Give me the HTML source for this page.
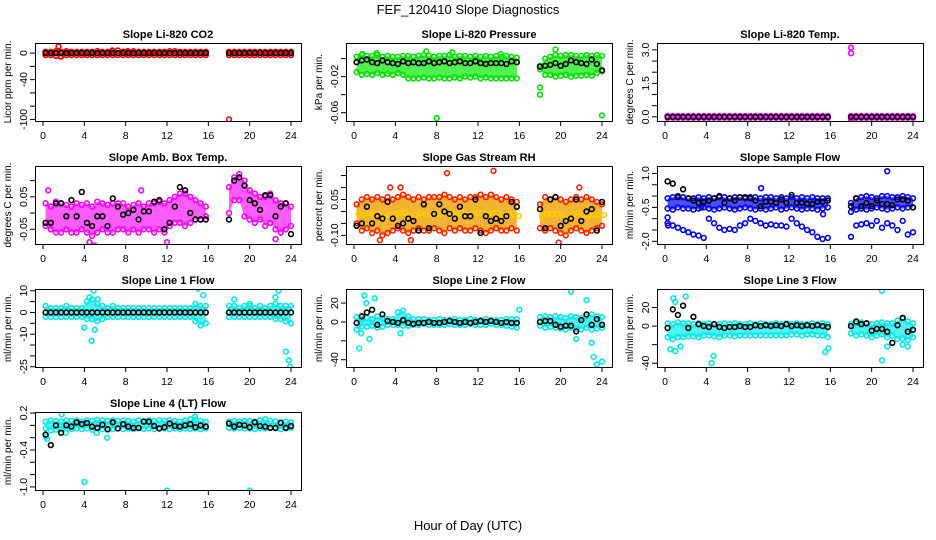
<!DOCTYPE html>
<html><head><meta charset="utf-8"><title>FEF_120410 Slope Diagnostics</title>
<style>
html,body{margin:0;padding:0;background:#fff;}
svg{display:block;font-family:"Liberation Sans",sans-serif;}
</style></head>
<body>
<svg id="chart" width="936" height="540" viewBox="0 0 936 540" xmlns="http://www.w3.org/2000/svg">
<rect x="0" y="0" width="936" height="540" fill="#fff"/>
<text x="468" y="14" font-size="13" text-anchor="middle">FEF_120410  Slope Diagnostics</text>
<text x="468" y="530" font-size="13" text-anchor="middle">Hour of Day (UTC)</text>
</svg>
<script>
// shared sample hours
const hours = [0.25,0.75,1.25,1.75,2.25,2.75,3.25,3.75,4.25,4.75,5.25,5.75,6.25,6.75,7.25,7.75,8.25,8.75,9.25,9.75,10.25,10.75,11.25,11.75,12.25,12.75,13.25,13.75,14.25,14.75,15.25,15.75,
 18,18.5,19,19.5,20,20.5,21,21.5,22,22.5,23,23.5,24];
const xTicks = [0,4,8,12,16,20,24];

// Panel 1: CO2
const co2Hi = [2,2,3,2,3,2,2,2,2,2,3,2,2,3,4,2,2,3,2,2,2,2,2,2,3,3,2,2,2,2,2,2, 2,2,2,2,2,2,2,2,2,2,2,2,2];
const co2Lo = [-3,-3,-4,-5,-3,-3,-3,-3,-3,-3,-3,-3,-3,-3,-3,-3,-3,-3,-3,-3,-3,-3,-3,-3,-3,-3,-3,-3,-3,-3,-3,-3, -3,-3,-3,-3,-3,-3,-3,-3,-3,-3,-3,-3,-3];
const co2Mean = [0,0,0,0,0,0,0,0,0,0,0,0,0,0,0,0,0,0,0,0,0,0,0,0,0,0,0,0,0,0,0,0, 0,0,0,0,0,0,0,0,0,0,0,0,0];
const co2Out = [[1.5,10],[1.7,-5],[8.2,3],[6.7,4],[18,-100]];
// Panel 2: Pressure
const presHi = [0.002,0.004,0.003,0.003,0.004,0.002,0.003,0.002,0.002,0.003,0.003,0.002,0.003,0.004,0.003,0.002,0.003,0.003,0.004,0.002,0.003,0.003,0.002,0.003,0.002,0.003,0.002,0.003,0.002,0.003,0.002,0.001, -0.008,0.0,0.002,0.004,0.003,0.004,0.004,0.003,0.003,0.004,0.003,0.004,0.003];
const presLo = [-0.015,-0.018,-0.017,-0.018,-0.016,-0.018,-0.017,-0.018,-0.016,-0.018,-0.022,-0.022,-0.022,-0.021,-0.022,-0.022,-0.021,-0.022,-0.022,-0.021,-0.022,-0.020,-0.021,-0.020,-0.022,-0.021,-0.022,-0.022,-0.022,-0.022,-0.022,-0.022, -0.012,-0.018,-0.018,-0.020,-0.019,-0.018,-0.020,-0.019,-0.019,-0.018,-0.019,-0.016,-0.014];
const presMean = [-0.004,-0.002,-0.001,-0.004,-0.005,-0.002,-0.004,-0.005,-0.006,-0.003,-0.005,-0.004,-0.005,-0.005,-0.003,-0.005,-0.004,-0.003,-0.005,-0.004,-0.003,-0.005,-0.005,-0.003,-0.005,-0.006,-0.005,-0.005,-0.005,-0.006,-0.003,-0.004, -0.009,-0.008,-0.007,-0.005,-0.008,-0.006,-0.002,-0.004,-0.005,-0.006,-0.001,-0.006,-0.013];
const presOut = [[0.8,0.005],[2.2,0.006],[7,0.008],[8,-0.066],[18,-0.032],[18,-0.04],[19.5,0.01],[24,-0.063],[9.5,0.007],[14.2,0.005]];
// Panel 3: Temp
const tempHi = [0.04,0.04,0.04,0.04,0.04,0.04,0.04,0.04,0.04,0.04,0.04,0.04,0.04,0.04,0.04,0.04,0.04,0.04,0.04,0.04,0.04,0.04,0.04,0.04,0.04,0.04,0.04,0.04,0.04,0.04,0.04,0.04, 0.04,0.04,0.04,0.04,0.04,0.04,0.04,0.04,0.04,0.04,0.04,0.04,0.04];
const tempLo = [-0.04,-0.04,-0.04,-0.04,-0.04,-0.04,-0.04,-0.04,-0.04,-0.04,-0.04,-0.04,-0.04,-0.04,-0.04,-0.04,-0.04,-0.04,-0.04,-0.04,-0.04,-0.04,-0.04,-0.04,-0.04,-0.04,-0.04,-0.04,-0.04,-0.04,-0.04,-0.04, -0.04,-0.04,-0.04,-0.04,-0.04,-0.04,-0.04,-0.04,-0.04,-0.04,-0.04,-0.04,-0.04];
const tempMean = [0,0,0,0,0,0,0,0,0,0,0,0,0,0,0,0,0,0,0,0,0,0,0,0,0,0,0,0,0,0,0,0, 0,0,0,0,0,0,0,0,0,0,0,0,0];
const tempOut = [[18,3.1],[18,2.85],[18,-0.1]];
// Panel 4: Amb box temp
const boxHi = [0.03,0.02,0.035,0.03,0.025,0.02,0.03,0.025,0.03,0.02,0.035,0.03,0.025,0.03,0.03,0.03,0.02,0.025,0.03,0.02,0.03,0.03,0.035,0.03,0.04,0.05,0.06,0.06,0.05,0.04,0.03,0.02, 0.08,0.11,0.12,0.10,0.07,0.06,0.05,0.05,0.06,0.04,0.03,0.03,0.02];
const boxLo = [-0.04,-0.05,-0.06,-0.06,-0.05,-0.06,-0.06,-0.05,-0.06,-0.07,-0.06,-0.05,-0.06,-0.06,-0.05,-0.05,-0.06,-0.05,-0.06,-0.05,-0.05,-0.06,-0.05,-0.06,-0.04,-0.03,-0.03,-0.04,-0.03,-0.02,-0.02,-0.01, 0.0,0.04,0.04,-0.01,-0.02,-0.03,-0.02,-0.04,-0.03,-0.05,-0.06,-0.05,-0.04];
const boxMean = [-0.03,-0.03,0.03,0.03,-0.01,0.04,-0.01,0.065,-0.03,-0.04,-0.01,-0.01,-0.04,0.045,0.02,-0.005,0.0,0.01,-0.02,0.005,0.005,0.035,0.04,-0.05,-0.03,0.02,0.08,0.07,0.0,-0.02,-0.02,-0.02, -0.02,0.1,0.11,0.085,0.04,0.03,0.01,0.055,0.055,-0.01,0.02,0.03,-0.065];
const boxOut = [[0.5,0.07],[4.5,-0.09],[5,-0.1],[9.5,0.07],[12,-0.09],[22.5,-0.08]];
// Panel 5: Gas stream RH
const rhHi = [0.03,0.05,0.06,0.05,0.06,0.05,0.06,0.05,0.06,0.07,0.06,0.05,0.06,0.05,0.06,0.06,0.06,0.07,0.06,0.05,0.06,0.05,0.06,0.06,0.07,0.06,0.07,0.06,0.05,0.06,0.05,0.04, 0.03,0.06,0.05,0.06,0.05,0.04,0.05,0.06,0.05,0.06,0.05,0.04,0.03];
const rhLo = [-0.05,-0.08,-0.07,-0.09,-0.08,-0.1,-0.09,-0.08,-0.07,-0.08,-0.09,-0.08,-0.07,-0.08,-0.08,-0.07,-0.08,-0.09,-0.07,-0.08,-0.07,-0.08,-0.08,-0.07,-0.08,-0.09,-0.08,-0.07,-0.08,-0.08,-0.07,-0.08, -0.07,-0.08,-0.07,-0.08,-0.09,-0.1,-0.08,-0.07,-0.08,-0.09,-0.08,-0.07,-0.06];
const rhMean = [-0.06,-0.05,0.02,-0.05,-0.02,-0.03,0.04,-0.03,-0.06,-0.05,-0.03,-0.04,-0.08,0.03,-0.07,-0.01,0.03,0.0,-0.01,-0.03,0.02,-0.02,-0.02,0.05,-0.09,-0.02,-0.04,-0.03,-0.04,-0.02,0.04,0.02, 0.01,-0.07,0.05,0.06,-0.06,-0.04,-0.03,0.05,-0.04,0.0,0.01,-0.08,0.04];
const rhOut = [[9,0.16],[13.5,0.17],[4.5,0.1],[3.5,0.1],[21.8,0.1],[19.8,-0.13],[2.5,-0.12],[5.5,-0.12]];
// Panel 6: Sample flow
const sfHi = [-0.1,-0.05,0.0,-0.05,-0.1,-0.1,-0.05,-0.1,-0.05,-0.1,-0.05,-0.05,-0.1,-0.05,-0.05,-0.1,-0.05,-0.05,-0.1,-0.05,-0.05,-0.1,-0.05,-0.1,-0.05,-0.1,-0.05,-0.1,-0.05,-0.1,-0.1,-0.1, -0.3,-0.1,-0.05,0.0,-0.05,-0.1,0.0,0.0,-0.05,-0.05,0.0,-0.05,-0.1];
const sfLo = [-0.55,-0.6,-0.5,-0.55,-0.55,-0.6,-0.55,-0.5,-0.55,-0.6,-0.55,-0.5,-0.55,-0.6,-0.55,-0.5,-0.55,-0.6,-0.55,-0.6,-0.55,-0.5,-0.6,-0.55,-0.5,-0.55,-0.6,-0.55,-0.55,-0.6,-0.55,-0.5, -0.7,-0.6,-0.55,-0.6,-0.55,-0.5,-0.55,-0.6,-0.55,-0.5,-0.55,-0.5,-0.5];
const sfLowBand = [-1.2,-1.3,-1.4,-1.5,-1.6,-1.7,-1.75,-1.85,-1.0,-1.2,-1.4,-1.5,-1.45,-1.5,-1.3,-1.2,-1.0,-1.1,-1.2,-1.3,-1.25,-1.3,-1.3,-1.35,-1.0,-1.2,-1.35,-1.5,-1.6,-1.8,-1.9,-1.85, -1.8,-1.3,-1.25,-1.2,-1.3,-1.1,-1.4,-1.2,-1.3,-1.5,-1.1,-1.7,-1.6];
const sfMean = [0.65,0.55,-0.05,0.3,-0.1,-0.2,-0.3,-0.25,-0.2,-0.1,0.0,-0.3,-0.1,-0.2,-0.05,-0.05,-0.1,-0.2,-0.45,-0.25,-0.25,-0.3,-0.15,-0.3,0.05,-0.3,-0.3,-0.35,-0.35,-0.25,-0.25,-0.2, -0.45,-0.1,-0.45,-0.3,-0.45,-0.2,-0.35,-0.35,-0.4,-0.15,-0.15,-0.2,-0.5];
const sfOut = [[0.25,-0.95],[3.5,-0.5],[21.5,1.1],[15.3,-0.8],[9.3,0.35],[0.3,-1.3]];
// Panel 7: Line 1
const l1Hi = [3,2,2,2,3,2,2,2,5,6,4,3,2,3,2,2,2,2,2,2,2,2,2,2,2,2,2,2,2,4,3,3, 3,3,2,3,3,2,3,2,3,4,3,3,3];
const l1Lo = [-2,-2,-2,-2,-2,-2,-2,-2,-3,-3,-4,-3,-2,-2,-2,-2,-2,-2,-2,-2,-2,-2,-2,-2,-2,-2,-2,-2,-2,-4,-6,-5, -2,-2,-2,-2,-2,-2,-2,-2,-2,-3,-3,-4,-5];
const l1Mean = [0,0,0,0,0,0,0,0,0,0,0,0,0,0,0,0,0,0,0,0,0,0,0,0,0,0,0,0,0,0,0,0, 0,0,0,0,0,0,0,0,0,0,0,0,0];
const l1Out = [[4,-7],[4.5,7],[4.9,10],[5,-8],[4.7,-13],[5.3,6],[15,11],[15.5,8],[18.5,6],[20,4],[22.8,10],[23.5,-18],[23.8,-22],[23.9,-25],[22.5,7]];
// Panel 8: Line 2
const l2Hi = [5,3,4,3,6,4,3,3,10,12,6,3,3,3,2,2,3,2,2,3,2,2,3,2,2,3,2,2,2,3,3,3, 5,6,5,6,5,4,6,5,4,6,8,6,5];
const l2Lo = [-8,-5,-5,-4,-6,-5,-3,-3,-3,-4,-4,-3,-3,-2,-3,-3,-3,-3,-2,-3,-3,-3,-2,-3,-3,-3,-2,-3,-3,-4,-5,-6, -4,-6,-5,-6,-7,-8,-6,-7,-8,-6,-8,-7,-6];
const l2Mean = [-1,6,10,13,-3,8,1,0,-1,2,-1,-2,-1,-1,0,-1,-1,0,1,0,-1,0,-1,0,1,0,1,0,-1,0,-1,-1, 0,1,1,-3,-5,-4,-4,-10,2,8,-3,3,-3];
const l2Out = [[0.5,-28],[1,28],[1.2,20],[2,25],[1.5,-18],[0.7,-12],[22.5,23],[21,32],[23.2,-37],[23.5,-45],[24,-42],[21.5,-18],[23,-22],[16,13],[4.5,-12]];
// Panel 9: Line 3
const l3Hi = [3,2,4,3,3,2,3,2,3,2,2,3,2,3,2,2,3,2,3,2,2,3,2,3,2,3,2,2,3,2,3,2, 2,3,4,3,2,3,4,3,3,6,8,5,3];
const l3Lo = [-12,-14,-12,-12,-11,-11,-12,-10,-10,-11,-12,-10,-10,-11,-10,-10,-10,-10,-10,-10,-10,-10,-10,-10,-9,-9,-10,-9,-9,-10,-10,-12, -8,-10,-9,-10,-12,-10,-9,-12,-10,-14,-13,-15,-12];
const l3Mean = [-2,18,12,22,-2,10,2,0,-1,2,-1,-2,-1,-1,0,-1,-1,1,0,1,0,1,0,2,0,1,0,1,0,1,0,-1, 0,5,2,3,-5,-3,-3,-6,-18,1,9,-6,-4];
const l3Out = [[0.8,30],[1,26],[2,32],[0.5,-25],[1,-27],[1.5,-22],[4.5,-40],[4.7,-32],[21,38],[21,-37],[21.5,-22],[23,-20],[23.5,-22],[15.5,-28],[15.8,-24]];
// Panel 10: Line 4 (LT)
const l4Hi = [0.06,0.08,0.07,0.06,0.08,0.07,0.08,0.06,0.08,0.07,0.09,0.08,0.07,0.08,0.07,0.08,0.07,0.06,0.08,0.07,0.08,0.07,0.08,0.07,0.08,0.07,0.06,0.08,0.1,0.09,0.07,0.06, 0.06,0.07,0.06,0.07,0.07,0.06,0.08,0.1,0.07,0.06,0.05,0.06,0.05];
const l4Lo = [-0.05,-0.08,-0.07,-0.06,-0.05,-0.06,-0.05,-0.06,-0.05,-0.07,-0.05,-0.06,-0.07,-0.06,-0.05,-0.06,-0.05,-0.06,-0.05,-0.06,-0.05,-0.06,-0.05,-0.05,-0.06,-0.05,-0.06,-0.05,-0.06,-0.05,-0.06,-0.05, -0.04,-0.05,-0.04,-0.05,-0.05,-0.06,-0.05,-0.05,-0.04,-0.05,-0.06,-0.05,-0.04];
const l4Mean = [-0.15,-0.32,0.0,-0.12,0.0,-0.02,0.05,0.02,0.04,-0.02,-0.04,0.01,-0.06,0.05,-0.05,0.02,-0.02,-0.04,-0.04,0.06,0.06,-0.01,-0.05,-0.03,0.03,-0.01,-0.02,0.0,0.02,-0.03,0.0,-0.02, 0.03,-0.02,0.01,0.0,-0.03,0.05,-0.01,-0.02,-0.04,-0.04,0.04,-0.04,-0.01];
const l4Out = [[0.3,-0.18],[0.4,-0.22],[1.8,0.18],[4,-0.92],[12,-1.06],[20,-1.06],[6.2,-0.2],[5.2,-0.12],[14.7,0.14],[2.2,-0.12]];

const SVGNS = "http://www.w3.org/2000/svg";
const svg = document.getElementById('chart');
const colLeft = [35,346,657];
const rowTop = [43,166,289,412];
const BW = 266, BH = 78;

function mk(tag, attrs, parent){
  const e = document.createElementNS(SVGNS, tag);
  for (const k in attrs) e.setAttribute(k, attrs[k]);
  (parent||svg).appendChild(e);
  return e;
}

const panels = [
 {key:'co2',title:'Slope Li-820 CO2',ylab:'Licor ppm per min.',r:0,c:0,dom:[-102.4,15.3],ticks:[0,-20,-40,-60,-80,-100],labs:[0,-40,-100],fmt:v=>String(v),col:'#ff0000',band:'#ff3030',hi:co2Hi,lo:co2Lo,mean:co2Mean,out:co2Out},
 {key:'pressure',title:'Slope Li-820 Pressure',ylab:'kPa per min.',r:0,c:1,dom:[-0.0692,0.0173],ticks:[0,-0.02,-0.04,-0.06],labs:[-0.02,-0.06],fmt:v=>v.toFixed(2),col:'#00e000',band:'#22ee22',hi:presHi,lo:presLo,mean:presMean,out:presOut},
 {key:'temp',title:'Slope Li-820 Temp.',ylab:'degrees C per min.',r:0,c:2,dom:[-0.185,3.307],ticks:[0,0.5,1,1.5,2,2.5,3],labs:[0,1.5,3],fmt:v=>v.toFixed(1),col:'#ff00ff',band:'#ff22ff',hi:tempHi,lo:tempLo,mean:tempMean,out:tempOut},
 {key:'box-temp',title:'Slope Amb. Box Temp.',ylab:'degrees C per min.',r:1,c:0,dom:[-0.0954,0.145],ticks:[-0.05,0,0.05,0.1],labs:[-0.05,0.05],fmt:v=>v.toFixed(2),col:'#ff00ff',band:'#ff33ff',hi:boxHi,lo:boxLo,mean:boxMean,out:boxOut},
 {key:'gas-rh',title:'Slope Gas Stream RH',ylab:'percent per min.',r:1,c:1,dom:[-0.136,0.19],ticks:[-0.1,-0.05,0,0.05,0.1,0.15],labs:[-0.1,0.05],fmt:v=>v.toFixed(2),col:'#ff2000',band:'#f0a000',hi:rhHi,lo:rhLo,mean:rhMean,out:rhOut},
 {key:'sample-flow',title:'Slope Sample Flow',ylab:'ml/min per min.',r:1,c:2,dom:[-2.12,1.33],ticks:[-2,-1.5,-1,-0.5,0,0.5,1],labs:[-2,-0.5,1],fmt:v=>v.toFixed(1),col:'#0000ff',band:'#2020ff',hi:sfHi,lo:sfLo,mean:sfMean,out:sfOut,extra:sfLowBand},
 {key:'line1',title:'Slope Line 1 Flow',ylab:'ml/min per min.',r:2,c:0,dom:[-25.1,10.8],ticks:[10,5,0,-5,-10,-15,-20,-25],labs:[10,0,-10,-25],fmt:v=>String(v),col:'#00e8e8',band:'#22f0f0',hi:l1Hi,lo:l1Lo,mean:l1Mean,out:l1Out},
 {key:'line2',title:'Slope Line 2 Flow',ylab:'ml/min per min.',r:2,c:1,dom:[-47.7,34.9],ticks:[20,0,-20,-40],labs:[20,0,-40],fmt:v=>String(v),col:'#00e8e8',band:'#22f0f0',hi:l2Hi,lo:l2Lo,mean:l2Mean,out:l2Out},
 {key:'line3',title:'Slope Line 3 Flow',ylab:'ml/min per min.',r:2,c:2,dom:[-44.1,40],ticks:[20,0,-20,-40],labs:[20,0,-40],fmt:v=>String(v),col:'#00e8e8',band:'#22f0f0',hi:l3Hi,lo:l3Lo,mean:l3Mean,out:l3Out},
 {key:'line4',title:'Slope Line 4 (LT) Flow',ylab:'ml/min per min.',r:3,c:0,dom:[-1.05,0.217],ticks:[0.2,0,-0.2,-0.4,-0.6,-0.8,-1],labs:[0.2,-0.4,-1],fmt:v=>v.toFixed(1),col:'#00e8e8',band:'#22f0f0',hi:l4Hi,lo:l4Lo,mean:l4Mean,out:l4Out}
];

function circle(g, x, y, color, name){
  const c = mk('circle',{cx:x.toFixed(1),cy:y.toFixed(1),r:2.4,fill:'none',stroke:color,'stroke-width':1.6},g);
  
  
  return c;
}

panels.forEach(p=>{
  const L = colLeft[p.c], T = rowTop[p.r];
  const g = mk('g',{});
  
  
  const xs = t => L + 8 + t*(248/24);
  const ys = v => T + (p.dom[1]-v)/(p.dom[1]-p.dom[0])*BH;
  const clip = mk('clipPath',{id:'clip-'+p.key},g);
  mk('rect',{x:L,y:T,width:BW,height:BH},clip);
  const plot = mk('g',{'clip-path':'url(#clip-'+p.key+')'},g);
  
  
  const segs = [[0,31],[32,hours.length-1]];
  segs.forEach((s,si)=>{
    let pts = [];
    for (let i=s[0];i<=s[1];i++) pts.push(xs(hours[i]).toFixed(1)+','+ys(p.hi[i]).toFixed(1));
    for (let i=s[1];i>=s[0];i--) pts.push(xs(hours[i]).toFixed(1)+','+ys(p.lo[i]).toFixed(1));
    const poly = mk('polygon',{points:pts.join(' '),fill:p.band,'fill-opacity':0.8,stroke:'none'},plot);
    
    
  });
  for (let i=0;i<hours.length;i++){
    circle(plot, xs(hours[i]), ys(p.hi[i]), p.col, 'point-high');
    circle(plot, xs(hours[i]), ys(p.lo[i]), p.col, 'point-low');
    if (p.key==='gas-rh'){ circle(plot, xs(hours[i])+2, ys((p.hi[i]+p.lo[i])/2), '#ffcc00', 'point-mid'); }
    if (p.extra){ circle(plot, xs(hours[i]), ys(p.extra[i]), p.col, 'point-low-band'); }
  }
  p.out.forEach(o=>{ circle(plot, xs(o[0]), ys(o[1]), p.col, 'point-outlier'); });
  p.mean.forEach((v,i)=>{ circle(plot, xs(hours[i]), ys(v), '#000', 'point-hourly-mean'); });
  const box = mk('rect',{x:L+0.5,y:T+0.5,width:BW,height:BH,fill:'none',stroke:'#000','stroke-width':1},g);
  
  
  const tt = mk('text',{x:L+BW/2,y:T-5,'font-size':11,'font-weight':'bold','text-anchor':'middle'},g);
  tt.textContent = p.title;
  
  
  xTicks.forEach(t=>{
    mk('line',{x1:xs(t),x2:xs(t),y1:T+BH,y2:T+BH+5,stroke:'#000'},g);
    const tx = mk('text',{x:xs(t),y:T+BH+18,'font-size':10.5,'text-anchor':'middle'},g);
    tx.textContent = String(t);
    
    
  });
  mk('line',{x1:xs(0),x2:xs(24),y1:T+BH+0.5,y2:T+BH+0.5,stroke:'#000'},g);
  p.ticks.forEach(v=>{
    mk('line',{x1:L-5,x2:L,y1:ys(v),y2:ys(v),stroke:'#000'},g);
  });
  p.labs.forEach(v=>{
    const yy = ys(v);
    const ty = mk('text',{x:0,y:0,'font-size':10.5,'text-anchor':'middle',transform:'translate('+(L-8)+','+yy.toFixed(1)+') rotate(-90)'},g);
    ty.textContent = p.fmt(v);
    
    
  });
  const yl = mk('text',{x:0,y:0,'font-size':10,'text-anchor':'middle',transform:'translate('+(L-24)+','+(T+BH/2)+') rotate(-90)'},g);
  yl.textContent = p.ylab;
  
  
});
</script>
</body></html>
